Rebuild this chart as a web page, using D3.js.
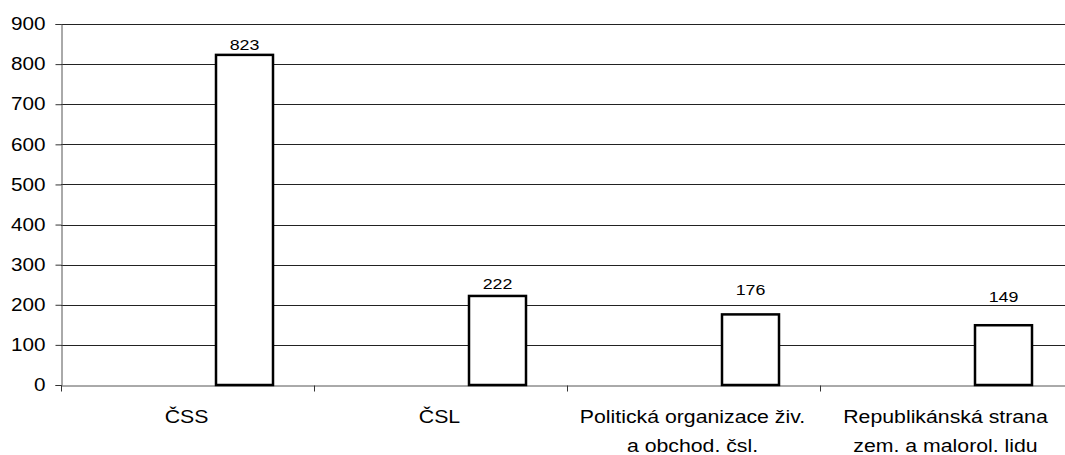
<!DOCTYPE html>
<html>
<head>
<meta charset="utf-8">
<script src="https://cdn.jsdelivr.net/npm/d3@7"></script>
<style>
  body { margin: 0; background: #fff; }
  svg { display: block; font-family: "Liberation Sans", Arial, sans-serif; }
</style>
</head>
<body>
<svg width="1065" height="455"></svg>
<script>
// data
const categories = [
    ['ČSS'],
    ['ČSL'],
    ['Politická organizace živ.', 'a obchod. čsl.'],
    ['Republikánská strana', 'zem. a malorol. lidu']
];
const values = [823, 222, 176, 149];
const yTicks = [0, 100, 200, 300, 400, 500, 600, 700, 800, 900];

const svg = d3.select('svg');
const margin = {left: 61, top: 24, bottom: 70};
const height = +svg.attr('height');
const bandW = 253;
const stretch = 1.15; // the scanned text is a bit wider than plain Arial

const x = d3.scaleBand()
    .domain(d3.range(categories.length))
    .range([margin.left, margin.left + bandW * categories.length]);

const y = d3.scaleLinear()
    .domain([0, 900])
    .range([height - margin.bottom, margin.top]);

// gridlines
svg.append('g')
    .selectAll('line')
    .data(yTicks.slice(1))
    .enter()
    .append('line')
    .attr('x1', margin.left)
    .attr('x2', 1065)
    .attr('y1', d => Math.round(y(d)) + 0.5)
    .attr('y2', d => Math.round(y(d)) + 0.5)
    .attr('stroke', '#222')
    .attr('stroke-width', 1);

// y axis
const yAxis = svg.append('g')
    .attr('transform', `translate(${margin.left + 0.5},0)`)
    .call(d3.axisLeft(y).tickValues(yTicks).tickSize(6));
yAxis.select('.domain').attr('stroke', '#555');
yAxis.selectAll('.tick line').attr('stroke', '#333');
yAxis.selectAll('text')
    .attr('x', -16 / stretch)
    .attr('transform', `scale(${stretch},1)`)
    .attr('font-size', 18)
    .attr('fill', '#000')
    .attr('font-family', '"Liberation Sans", Arial, sans-serif');

// x axis
const xAxis = svg.append('g')
    .attr('transform', `translate(0,${Math.round(y(0)) + 0.5})`)
    .call(d3.axisBottom(x).tickValues([]).tickSizeOuter(0));
xAxis.select('.domain').attr('stroke', '#555');
xAxis.selectAll('.bt')
    .data(d3.range(categories.length))
    .enter()
    .append('line')
    .attr('x1', d => Math.round(x(d)) + 0.5)
    .attr('x2', d => Math.round(x(d)) + 0.5)
    .attr('y1', 0)
    .attr('y2', 6)
    .attr('stroke', '#333');

// bars
const barOffset = 155, barW = 57;
svg.append('g')
    .selectAll('rect')
    .data(values)
    .enter()
    .append('rect')
    .attr('x', (d, i) => x(i) + barOffset)
    .attr('y', d => y(d))
    .attr('width', barW)
    .attr('height', d => y(0) - y(d))
    .attr('fill', '#fff')
    .attr('stroke', '#000')
    .attr('stroke-width', 2.5);

// value labels
const labelLift = [5, 7, 19, 23];
svg.append('g')
    .selectAll('text')
    .data(values)
    .enter()
    .append('text')
    .attr('transform', (d, i) =>
        `translate(${x(i) + barOffset + barW / 2},${y(d) - labelLift[i]}) scale(${stretch},1)`)
    .attr('text-anchor', 'middle')
    .attr('font-size', 15.5)
    .text(d => d);

// category labels
const catG = svg.append('g')
    .selectAll('text')
    .data(categories)
    .enter()
    .append('text')
    .attr('transform', (d, i) =>
        `translate(${x(i) + x.bandwidth() / 2 - 1},423) scale(${stretch},1)`)
    .attr('text-anchor', 'middle')
    .attr('font-size', 18.5);
catG.selectAll('tspan')
    .data(d => d)
    .enter()
    .append('tspan')
    .attr('x', 0)
    .attr('dy', (d, i) => i === 0 ? 0 : 29)
    .text(d => d);
</script>
</body>
</html>
